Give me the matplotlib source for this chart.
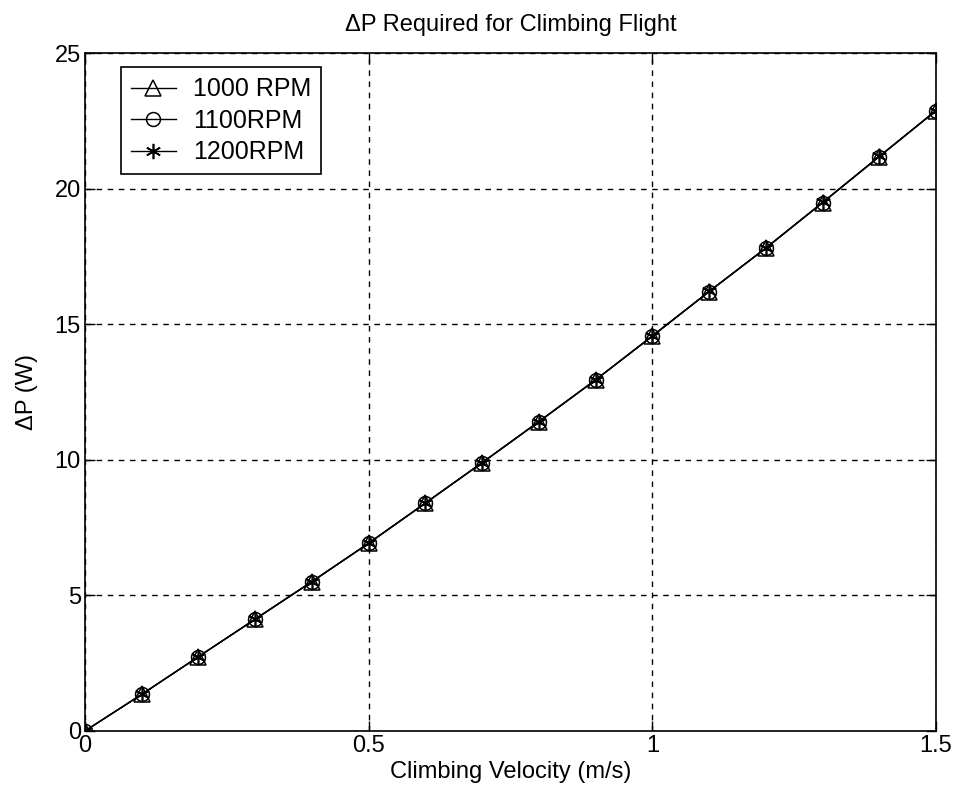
import numpy as np
import matplotlib
matplotlib.use('Agg')
import matplotlib.pyplot as plt

plt.rcParams['font.family'] = ['Liberation Sans', 'DejaVu Sans']

# climbing velocity (m/s) and extra power needed (W) at each rotor speed
v = [0, 0.1, 0.2, 0.3, 0.4, 0.5, 0.6, 0.7, 0.8, 0.9, 1.0, 1.1, 1.2, 1.3, 1.4, 1.5]
dp_1000 = [0, 1.35, 2.74, 4.12, 5.50, 6.92, 8.40, 9.89, 11.40, 12.94, 14.56, 16.20, 17.80, 19.48, 21.18, 22.87]
dp_1100 = [0, 1.35, 2.74, 4.12, 5.51, 6.92, 8.40, 9.89, 11.41, 12.95, 14.56, 16.20, 17.81, 19.48, 21.18, 22.88]
dp_1200 = [0, 1.35, 2.74, 4.13, 5.51, 6.93, 8.41, 9.90, 11.41, 12.95, 14.57, 16.21, 17.81, 19.49, 21.19, 22.88]

fs = 17

f = plt.figure(figsize=(9.54, 8.06), dpi=100)
p = f.add_axes([0.0891, 0.0931, 0.8920, 0.8411])

p.plot(v, dp_1000, color='k', lw=1.0, marker='^', ms=12, mfc='none', mec='k', mew=1.1, label='1000 RPM')
p.plot(v, dp_1100, color='k', lw=1.0, marker='o', ms=10, mfc='none', mec='k', mew=1.1, label='1100RPM')
# asterisk: six spokes like the classic '*' marker
p.plot(v, dp_1200, color='k', lw=1.0, marker=(6, 2, 0), ms=11, mfc='k', mec='k', mew=1.2, label='1200RPM')

p.set_xlim(0, 1.5)
p.set_ylim(0, 25)
p.set_xticks([0, 0.5, 1, 1.5])
p.set_xticklabels(['0', '0.5', '1', '1.5'])
p.set_yticks([0, 5, 10, 15, 20, 25])
p.tick_params(direction='in', top=True, right=True, labelsize=fs, length=7, width=1, pad=3)
p.grid(True, color='k', linestyle=(0, (4, 4)), linewidth=1.0)
for s in p.spines.values():
    s.set_linewidth(1.2)

p.set_title('ΔP Required for Climbing Flight', fontsize=fs, pad=16)
p.set_xlabel('Climbing Velocity (m/s)', fontsize=fs, labelpad=3)
p.set_ylabel('ΔP (W)', fontsize=fs, labelpad=12)

leg = p.legend(loc='upper left', bbox_to_anchor=(0.042, 0.979), fontsize=18,
               frameon=True, fancybox=False, edgecolor='k', framealpha=1,
               borderaxespad=0, handlelength=1.8, handletextpad=0.7,
               labelspacing=0.3, borderpad=0.4)
leg.get_frame().set_linewidth(1.2)

f.savefig('out.png', dpi=100)
